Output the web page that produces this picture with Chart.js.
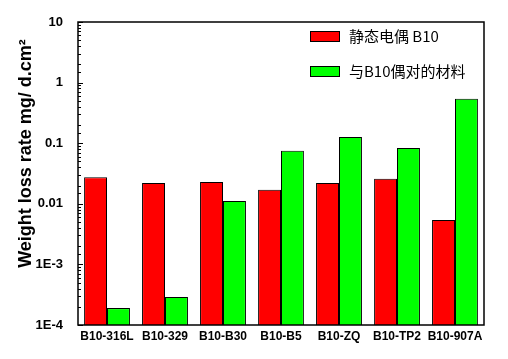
<!DOCTYPE html>
<html>
<head>
<meta charset="utf-8">
<script src="https://cdn.jsdelivr.net/npm/chart.js@4/dist/chart.umd.min.js"></script>
<style>
  html, body { margin: 0; padding: 0; background: #fff; }
  #wrap { width: 508px; height: 359px; }
</style>
</head>
<body>
<div id="wrap"><canvas id="chart"></canvas></div>
<script>
const categories = ["B10-316L", "B10-329", "B10-B30", "B10-B5", "B10-ZQ", "B10-TP2", "B10-907A"];
const b10Values = [0.0275, 0.022, 0.0228, 0.017, 0.022, 0.026, 0.0054];
const pairValues = [0.00019, 0.00029, 0.0111, 0.075, 0.126, 0.083, 0.54];
const seriesNames = ["静态电偶 B10", "与B10偶对的材料"];
const yTickLabels = { 10: "10", 1: "1", 0.1: "0.1", 0.01: "0.01", 0.001: "1E-3", 0.0001: "1E-4" };

const isMajor = (v) => {
  const l = Math.log10(v);
  return Math.abs(l - Math.round(l)) < 1e-6;
};

// frame, inward ticks and the legend inside the plot
const framePlugin = {
  id: "frame",
  afterDraw(chart) {
    const { ctx, chartArea: a, scales } = chart;
    const y = scales.y;
    ctx.save();
    ctx.strokeStyle = "#000";
    ctx.lineWidth = 1.5;
    ctx.strokeRect(a.left, a.top, a.right - a.left, a.bottom - a.top);

    ctx.lineWidth = 1;
    y.ticks.forEach((t) => {
      const py = Math.round(y.getPixelForValue(t.value)) + 0.5;
      const len = isMajor(t.value) ? 5 : 3;
      ctx.beginPath();
      ctx.moveTo(a.left, py);
      ctx.lineTo(a.left + len, py);
      ctx.stroke();
    });

    // legend
    const colors = chart.data.datasets.map((d) => d.backgroundColor);
    const rows = [36, 71];
    ctx.font = '15px "Noto Sans CJK SC"';
    ctx.textBaseline = "middle";
    ctx.textAlign = "left";
    chart.data.datasets.forEach((d, i) => {
      ctx.fillStyle = colors[i];
      ctx.fillRect(310, rows[i] - 5, 30, 11);
      ctx.strokeStyle = "#000";
      ctx.strokeRect(310.5, rows[i] - 4.5, 29, 10);
      ctx.fillStyle = "#000";
      ctx.fillText(d.label, 349, rows[i]);
    });
    ctx.restore();
  },
};

new Chart(document.getElementById("chart"), {
  type: "bar",
  data: {
    labels: categories,
    datasets: [
      {
        label: seriesNames[0],
        data: b10Values,
        backgroundColor: "#ff0000",
        borderColor: "#000",
        borderWidth: 1,
      },
      {
        label: seriesNames[1],
        data: pairValues,
        backgroundColor: "#00ff00",
        borderColor: "#000",
        borderWidth: 1,
      },
    ],
  },
  options: {
    responsive: true,
    maintainAspectRatio: false,
    animation: false,
    datasets: { bar: { barPercentage: 1, categoryPercentage: 0.79 } },
    layout: { padding: { top: 22, right: 24, left: 0, bottom: 0 } },
    plugins: {
      legend: { display: false },
      tooltip: { enabled: false },
    },
    scales: {
      x: {
        grid: { display: false, drawTicks: false },
        border: { display: false },
        ticks: {
          color: "#000",
          padding: 4,
          maxRotation: 0,
          autoSkip: false,
          font: { family: "Liberation Sans", size: 12, weight: "bold" },
        },
        afterFit: (s) => { s.height = 34; },
      },
      y: {
        type: "logarithmic",
        min: 0.0001,
        max: 10,
        grid: { display: false },
        border: { display: false },
        ticks: {
          color: "#000",
          padding: 7,
          autoSkip: false,
          font: { family: "Liberation Sans", size: 13, weight: "bold" },
          callback: (v) => (isMajor(v) ? yTickLabels[Math.pow(10, Math.round(Math.log10(v)))] : ""),
        },
        title: {
          display: true,
          // leading spaces nudge the rotated title upward, as in the original
          text: "        Weight loss rate mg/ d.cm²",
          color: "#000",
          padding: { top: 15, bottom: 0 },
          font: { family: "Liberation Sans", size: 18, weight: "bold" },
        },
        afterFit: (s) => { s.width = 78; },
      },
    },
  },
  plugins: [framePlugin],
});
</script>
</body>
</html>
